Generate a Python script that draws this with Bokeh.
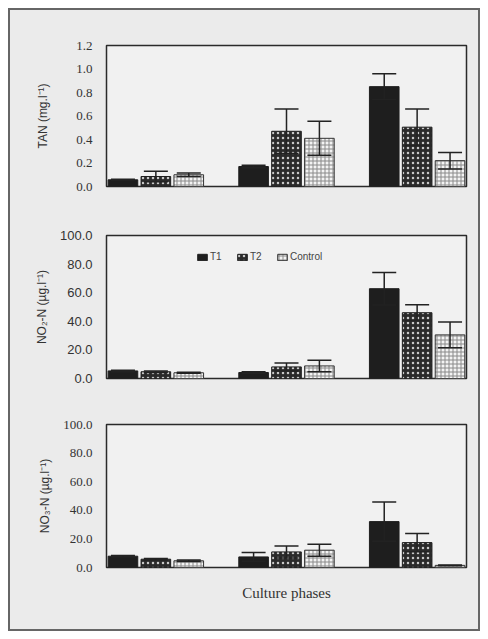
from bokeh.plotting import figure
from bokeh.layouts import column
from bokeh.models import (FactorRange, Range1d, Whisker, ColumnDataSource, FixedTicker,
                          PrintfTickFormatter, Legend, LegendItem, TeeHead, Title)
from bokeh.embed import file_html
from bokeh.resources import INLINE

phases = ["Phase 1", "Phase 2", "Phase 3"]
series = ["T1", "T2", "Control"]

# TAN (mg/l)
tan_t1 = [0.057, 0.17, 0.85]
tan_t2 = [0.085, 0.47, 0.505]
tan_ctrl = [0.10, 0.41, 0.22]
tan_t1_err = [0.005, 0.01, 0.11]
tan_t2_err = [0.045, 0.19, 0.155]
tan_ctrl_err = [0.015, 0.145, 0.07]

# NO2-N (ug/l)
no2_t1 = [5.3, 4.2, 62.8]
no2_t2 = [4.7, 8.1, 46.0]
no2_ctrl = [4.0, 8.8, 30.5]
no2_t1_err = [0.5, 0.5, 11.4]
no2_t2_err = [0.5, 2.8, 5.6]
no2_ctrl_err = [0.4, 4.0, 9.0]

# NO3-N (ug/l)
no3_t1 = [7.9, 7.4, 32.1]
no3_t2 = [5.8, 10.9, 17.4]
no3_ctrl = [4.7, 12.1, 1.5]
no3_t1_err = [0.5, 3.1, 13.7]
no3_t2_err = [0.5, 4.2, 6.3]
no3_ctrl_err = [0.5, 4.2, 0.3]

tan_ticks = [0.0, 0.2, 0.4, 0.6, 0.8, 1.0, 1.2]
n_ticks = [0.0, 20.0, 40.0, 60.0, 80.0, 100.0]

styles = {
    "T1": dict(fill_color="#1e1e1e", line_color="#1e1e1e"),
    "T2": dict(fill_color="#2a2a2a", line_color="#1e1e1e", hatch_pattern=".",
               hatch_color="#c8c8c8", hatch_scale=5, hatch_weight=2),
    "Control": dict(fill_color="#f3f3f3", line_color="#333333", hatch_pattern="+",
                    hatch_color="#8a8a8a", hatch_scale=4, hatch_weight=1),
}

BG = "#ebebeb"


def make(vals, errs, y_end, ticks, ylabel, height, top, bottom, tick_font,
         label_standoff, legend=False, xlabel=None):
    factors = [(ph, s) for ph in phases for s in series]
    p = figure(x_range=FactorRange(*factors, group_padding=0.97, range_padding=0),
               y_range=Range1d(0, y_end), width=468, height=height,
               output_backend="svg", toolbar_location=None,
               min_border_left=96, min_border_right=12,
               min_border_top=top, min_border_bottom=bottom,
               background_fill_color="#f1f1f1", border_fill_color=BG)
    items = []
    for s in series:
        v = vals[s]
        e = errs[s]
        src = ColumnDataSource(dict(
            x=[(ph, s) for ph in phases], top=v,
            upper=[a + b for a, b in zip(v, e)],
            lower=[a - b for a, b in zip(v, e)]))
        r = p.vbar(x="x", top="top", width=0.9, source=src, line_width=1, **styles[s])
        w = Whisker(source=src, base="x", upper="upper", lower="lower", level="overlay",
                    line_color="#222222", line_width=1.5,
                    upper_head=TeeHead(size=24, line_color="#222222", line_width=1.5),
                    lower_head=TeeHead(size=24, line_color="#222222", line_width=1.5))
        p.add_layout(w)
        items.append(LegendItem(label=s, renderers=[r]))
    if legend:
        lg = Legend(items=items, orientation="horizontal", location=(90, 116),
                    background_fill_alpha=0, border_line_color=None,
                    label_text_font="Liberation Sans", label_text_font_size="10px",
                    glyph_width=12, glyph_height=8, spacing=6, padding=2,
                    label_standoff=2, label_height=9)
        p.add_layout(lg)
    p.xgrid.visible = False
    p.ygrid.visible = False
    p.outline_line_color = "#2a2a2a"
    p.outline_line_width = 1.5
    p.xaxis.visible = False
    ya = p.yaxis[0]
    ya.ticker = FixedTicker(ticks=ticks)
    ya.formatter = PrintfTickFormatter(format="%.1f")
    ya.axis_label = ylabel
    ya.axis_label_text_font = "Liberation Sans"
    ya.axis_label_text_font_size = "12px"
    ya.axis_label_text_font_style = "normal"
    ya.axis_label_text_color = "#333333"
    ya.axis_label_standoff = label_standoff
    ya.major_label_text_font = tick_font
    ya.major_label_text_font_size = "13px"
    ya.major_label_text_color = "#333333"
    ya.major_tick_line_color = None
    ya.minor_tick_line_color = None
    ya.axis_line_color = "#2a2a2a"
    ya.major_label_standoff = 8
    if xlabel:
        p.add_layout(Title(text=xlabel, align="center", text_font="Liberation Serif",
                           text_font_size="15px", text_font_style="normal",
                           text_color="#333333", standoff=31), "below")
    return p


p1 = make({"T1": tan_t1, "T2": tan_t2, "Control": tan_ctrl},
          {"T1": tan_t1_err, "T2": tan_t2_err, "Control": tan_ctrl_err},
          1.2, tan_ticks, "TAN (mg.l\u207b\u00b9)", 195, 35, 19, "Liberation Serif", 23)
p2 = make({"T1": no2_t1, "T2": no2_t2, "Control": no2_ctrl},
          {"T1": no2_t1_err, "T2": no2_t2_err, "Control": no2_ctrl_err},
          100, n_ticks, "NO\u2082-N (\u00b5g.l\u207b\u00b9)", 190, 30, 17, "Liberation Sans", 8,
          legend=True)
p3 = make({"T1": no3_t1, "T2": no3_t2, "Control": no3_ctrl},
          {"T1": no3_t1_err, "T2": no3_t2_err, "Control": no3_ctrl_err},
          100, n_ticks, "NO\u2083-N (\u00b5g.l\u207b\u00b9)", 234, 29, 62, "Liberation Serif", 8,
          xlabel="Culture phases")

layout = column(p1, p2, p3, styles={"border": "2px solid #666666", "background-color": BG,
                                    "margin-top": "8px", "margin-left": "8px"})
open("out.html", "w").write(file_html(layout, INLINE))
